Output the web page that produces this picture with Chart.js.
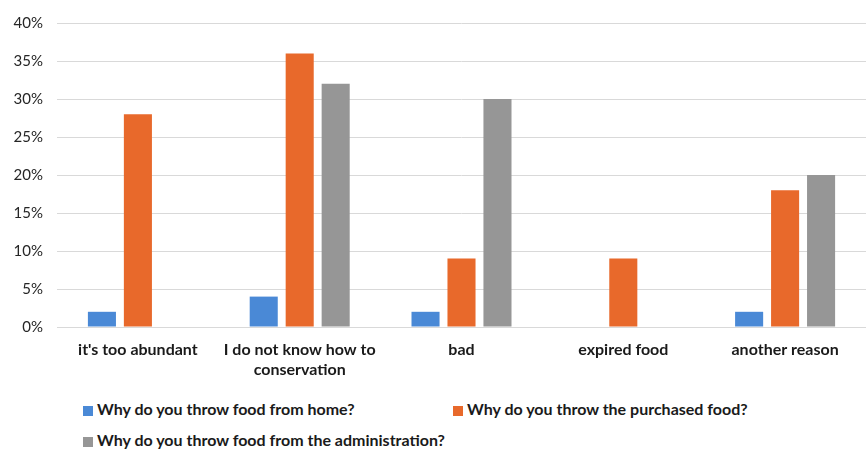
<!DOCTYPE html>
<html>
<head>
<meta charset="utf-8">
<script src="https://cdn.jsdelivr.net/npm/chart.js@4"></script>
<style>
  body { margin: 0; background: #fff; width: 866px; height: 471px; overflow: hidden; position: relative; font-family: Lato, sans-serif; }
  #wrap { position: absolute; left: 0; top: 0; width: 866px; height: 385px; }
  .leg { position: absolute; font-family: Lato, sans-serif; font-weight: bold; font-size: 16px; line-height: 16px; color: #1a1a1a; white-space: nowrap; }
  .leg span { display: inline-block; width: 10px; height: 10px; margin-right: 4px; vertical-align: -1px; }
</style>
</head>
<body>
<div id="wrap"><canvas id="chart"></canvas></div>
<div class="leg" style="left:83px; top:401px;"><span style="background:#4a89d6"></span>Why do you throw food from home?</div>
<div class="leg" style="left:453px; top:401px;"><span style="background:#e8692b"></span>Why do you throw the purchased food?</div>
<div class="leg" style="left:83px; top:432px;"><span style="background:#969696"></span>Why do you throw food from the administration?</div>
<script>
// категории и значения (в процентах)
const categories = [
    "it's too abundant",
    ["I do not know how to", "conservation"],
    "bad",
    "expired food",
    "another reason"
];
const seriesNames = [
    'Why do you throw food from home?',
    'Why do you throw the purchased food?',
    'Why do you throw food from the administration?'
];
const fromHome = [2, 4, 2, 0, 2];
const purchased = [28, 36, 9, 9, 18];
const fromAdministration = [0, 32, 30, 0, 20];
const yTicks = [0, 5, 10, 15, 20, 25, 30, 35, 40];

const colors = ['#4a89d6', '#e8692b', '#969696'];

function initChart() {
    const ctx = document.getElementById('chart').getContext('2d');
    new Chart(ctx, {
        type: 'bar',
        data: {
            labels: categories,
            datasets: [fromHome, purchased, fromAdministration].map((d, i) => ({
                label: seriesNames[i],
                data: d,
                backgroundColor: colors[i],
                categoryPercentage: 0.667,
                barPercentage: 0.78
            }))
        },
        options: {
            responsive: true,
            maintainAspectRatio: false,
            animation: false,
            layout: { padding: { top: 15, right: 0, left: 0, bottom: 0 } },
            plugins: {
                legend: { display: false },
                tooltip: { enabled: false }
            },
            scales: {
                x: {
                    grid: { display: false },
                    border: { color: '#d9d9d9' },
                    ticks: {
                        color: '#1a1a1a',
                        font: { family: 'Lato', size: 16, weight: 'bold', lineHeight: 1.25 },
                        maxRotation: 0,
                        autoSkip: false,
                        padding: 5
                    }
                },
                y: {
                    min: 0,
                    max: 40,
                    afterFit: (scale) => { scale.width = 57; },
                    afterBuildTicks: (scale) => { scale.ticks = yTicks.map(v => ({ value: v })); },
                    grid: { color: '#d9d9d9', drawTicks: false },
                    border: { display: false },
                    ticks: {
                        color: '#262626',
                        font: { family: 'Lato', size: 15 },
                        padding: 14,
                        callback: v => v + '%'
                    }
                }
            }
        }
    });
}

window.addEventListener('DOMContentLoaded', initChart);
</script>
</body>
</html>
